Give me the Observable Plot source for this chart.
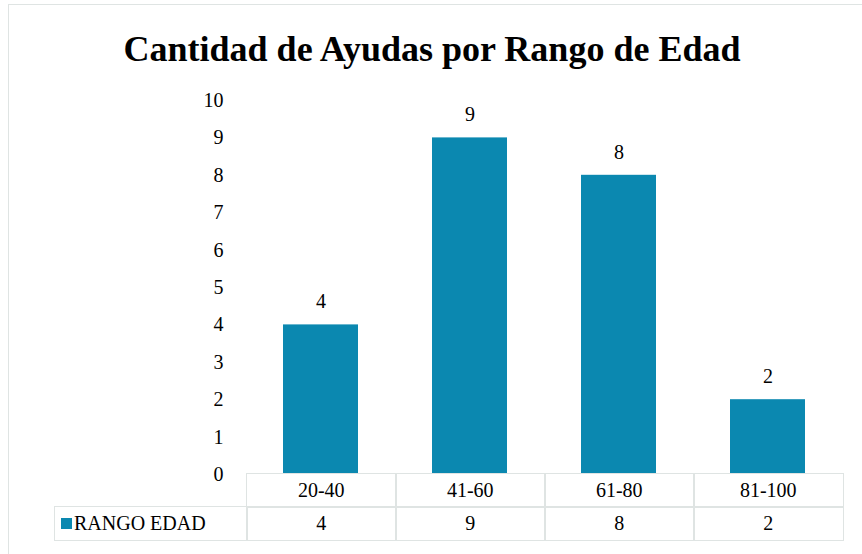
<!DOCTYPE html>
<html>
<head>
<meta charset="utf-8">
<script src="https://cdn.jsdelivr.net/npm/d3@7"></script>
<script src="https://cdn.jsdelivr.net/npm/@observablehq/plot@0.6"></script>
<style>
  html, body { margin: 0; padding: 0; background: #fff; }
  #wrap { position: relative; width: 862px; height: 554px; overflow: hidden; background: #fff;
          font-family: "Liberation Serif", "Times New Roman", Times, Tinos, "DejaVu Serif", serif; color: #000; }
  #frame { position: absolute; left: 8px; top: 4px; width: 900px; height: 600px;
           border: 1.5px solid #dfe4e3; box-sizing: border-box; }
  #title { position: absolute; left: 0; width: 864px; top: 27px; text-align: center;
           font-weight: bold; font-size: 36px; line-height: 44px; }
  #chart { position: absolute; left: 0; top: 90px; }
  #chart svg { overflow: visible; }
  .cell { position: absolute; box-sizing: border-box; border: 1.5px solid #dfe4e3;
          display: flex; align-items: center; justify-content: center; font-size: 20px; }
  .sw { display: inline-block; width: 11px; height: 11px; background: #0b88b0; margin-right: 2px; }
</style>
</head>
<body>
<div id="wrap">
  <div id="frame"></div>
  <div id="title"></div>
  <div id="chart"></div>
</div>
<script>
const title = "Cantidad de Ayudas por Rango de Edad";
const categories = ["20-40", "41-60", "61-80", "81-100"];
const values = [4, 9, 8, 2];
const seriesName = "RANGO EDAD";
const yTicks = [0, 1, 2, 3, 4, 5, 6, 7, 8, 9, 10];
const barColor = "#0b88b0";

const data = categories.map((c, i) => ({cat: c, val: values[i]}));
const serif = '"Liberation Serif", "Times New Roman", Times, Tinos, "DejaVu Serif", serif';

document.getElementById("title").textContent = title;

const plot = Plot.plot({
  width: 862,
  height: 394,
  marginLeft: 245,
  marginRight: 19,
  marginTop: 10,
  marginBottom: 10,
  style: {fontFamily: serif, fontSize: "20px", color: "#000", background: "transparent"},
  x: {domain: categories, paddingInner: 0.5, paddingOuter: 0.25, axis: null},
  y: {domain: [0, 10], ticks: yTicks, tickSize: 0, tickPadding: 22, label: null, tickFormat: d => String(d)},
  marks: [
    Plot.barY(data, {x: "cat", y: "val", fill: barColor}),
    Plot.text(data, {x: "cat", y: "val", text: d => String(d.val), dy: -23, fill: "#000", fontSize: 20, fontFamily: serif})
  ]
});
plot.querySelectorAll("text").forEach(t => t.style.fontFamily = serif);
document.getElementById("chart").appendChild(plot);

// data table built from the same x scale
const xs = plot.scale("x");
const wrap = document.getElementById("wrap");
const tableTop = 473, row1 = 33, row2 = 35;
const colW = xs.step;
function cell(left, top, w, h, html) {
  const d = document.createElement("div");
  d.className = "cell";
  d.style.left = left + "px"; d.style.top = top + "px";
  d.style.width = w + "px"; d.style.height = h + "px";
  d.innerHTML = html;
  wrap.appendChild(d);
  return d;
}
categories.forEach((c, i) => {
  const left = xs.apply(c) - (xs.step - xs.bandwidth) / 2;
  cell(left, tableTop, colW + 1.5, row1 + 1.5, c);
  cell(left, tableTop + row1, colW + 1.5, row2, String(values[i]));
});
const firstLeft = xs.apply(categories[0]) - (xs.step - xs.bandwidth) / 2;
const leg = cell(54, tableTop + row1, firstLeft - 54 + 1.5, row2, `<span class="sw"></span>${seriesName}`);
leg.style.justifyContent = "flex-start";
leg.style.paddingLeft = "6px";
</script>
</body>
</html>
